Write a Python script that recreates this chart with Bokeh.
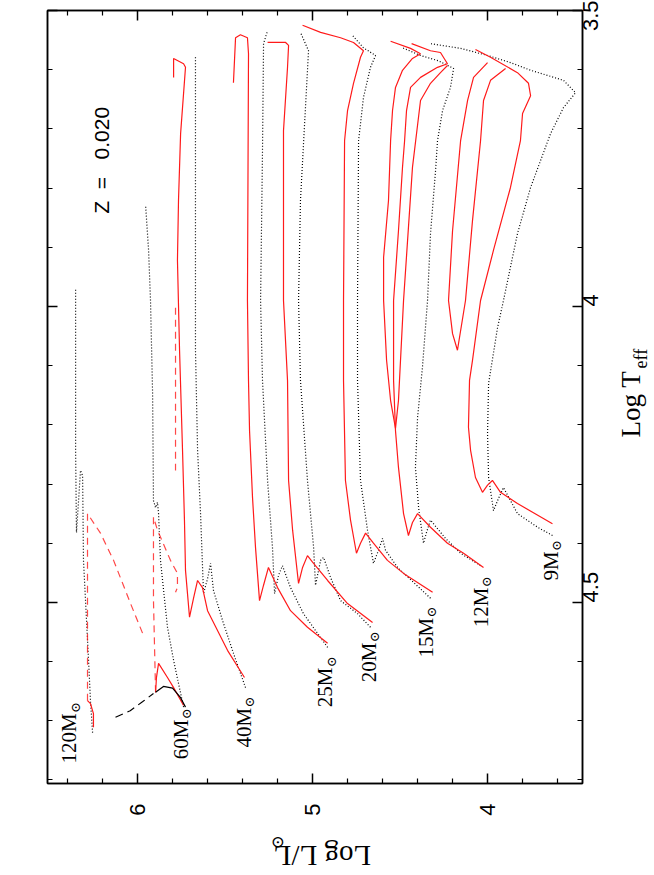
import math
from bokeh.plotting import figure
from bokeh.layouts import row, column
from bokeh.models import Range1d, LinearAxis, FixedTicker, Label
from bokeh.core.properties import value
from bokeh.embed import file_html
from bokeh.resources import INLINE

# ---------------- data: Log L (x) and Log Teff (y) ----------------
# rotating models (red solid)
m9_rot_L = [3.627, 3.827, 3.924, 3.970, 3.998, 4.027, 4.067, 4.095, 4.107, 4.101, 4.084, 4.038, 3.964, 3.867, 3.810, 3.798, 3.752, 3.764, 3.827, 3.981, 4.067]
m9_rot_T = [4.367, 4.333, 4.314, 4.294, 4.302, 4.314, 4.289, 4.243, 4.204, 4.125, 4.091, 3.990, 3.905, 3.799, 3.720, 3.674, 3.644, 3.623, 3.605, 3.579, 3.566]
m9_loop_L = [3.895, 3.981, 4.021, 4.038, 4.084, 4.124, 4.170, 4.198, 4.221, 4.198, 4.152, 4.112, 4.078, 3.998]
m9_loop_T = [3.598, 3.618, 3.652, 3.720, 3.855, 3.990, 4.074, 4.046, 3.990, 3.872, 3.720, 3.652, 3.613, 3.588]
m12_rot_L = [4.021, 4.135, 4.227, 4.324, 4.398, 4.427, 4.450, 4.478, 4.507, 4.524, 4.535, 4.535, 4.507, 4.484, 4.472, 4.461, 4.438, 4.381, 4.284, 4.227, 4.267, 4.324, 4.432]
m12_rot_T = [4.441, 4.417, 4.400, 4.373, 4.350, 4.365, 4.387, 4.350, 4.272, 4.210, 4.125, 3.990, 3.872, 3.765, 3.720, 3.669, 3.630, 3.613, 3.596, 3.590, 3.571, 3.568, 3.556]
m12_loop_L = [4.552, 4.438, 4.381, 4.427, 4.484, 4.524, 4.541, 4.552, 4.564, 4.592, 4.592, 4.575, 4.552, 4.524, 4.507, 4.478, 4.427, 4.381, 4.324, 4.267, 4.227]
m12_loop_T = [3.552, 3.564, 3.573, 3.581, 3.601, 3.630, 3.669, 3.720, 3.821, 3.917, 3.990, 4.091, 4.159, 4.206, 4.159, 3.990, 3.765, 3.652, 3.623, 3.605, 3.593]
m15_rot_L = [4.312, 4.478, 4.570, 4.650, 4.695, 4.724, 4.747, 4.781, 4.810, 4.821, 4.821, 4.815, 4.798, 4.764, 4.724, 4.707, 4.764, 4.838, 4.952, 5.055]
m15_rot_T = [4.483, 4.451, 4.429, 4.400, 4.383, 4.400, 4.417, 4.361, 4.294, 4.125, 3.990, 3.720, 3.669, 3.623, 3.579, 3.568, 3.554, 3.546, 3.537, 3.525]
m20_rot_L = [4.655, 4.798, 4.912, 4.998, 5.027, 5.055, 5.078, 5.112, 5.135, 5.141, 5.164, 5.164, 5.141, 5.135, 5.152, 5.255]
m20_rot_T = [4.534, 4.502, 4.463, 4.432, 4.421, 4.441, 4.468, 4.378, 4.294, 4.125, 3.990, 3.703, 3.596, 3.559, 3.554, 3.554]
m25_rot_L = [4.912, 5.027, 5.124, 5.198, 5.250, 5.278, 5.301, 5.324, 5.341, 5.358, 5.364, 5.370, 5.364, 5.370, 5.410, 5.438, 5.450]
m25_rot_T = [4.569, 4.542, 4.514, 4.475, 4.441, 4.471, 4.497, 4.407, 4.323, 4.210, 4.125, 3.990, 3.573, 3.546, 3.541, 3.546, 3.622]
m40_rot_L = [5.387, 5.484, 5.598, 5.627, 5.655, 5.678, 5.701, 5.724, 5.730, 5.741, 5.758, 5.770, 5.764, 5.752, 5.724, 5.735, 5.792, 5.792]
m40_rot_T = [4.627, 4.581, 4.514, 4.475, 4.463, 4.493, 4.525, 4.446, 4.361, 4.243, 4.074, 3.922, 3.821, 3.708, 3.596, 3.590, 3.581, 3.613]
m60_rot_L = [5.735, 5.792, 5.827, 5.878, 5.890, 5.895]
m60_rot_T = [4.674, 4.644, 4.627, 4.603, 4.627, 4.652]
m60_wr_L = [5.895, 5.907, 5.907, 5.884, 5.810, 5.770, 5.770, 5.781]
m60_wr_T = [4.652, 4.497, 4.356, 4.378, 4.429, 4.451, 4.475, 4.483]
m60_wr2_L = [5.781, 5.781]
m60_wr2_T = [4.002, 4.277]
m120_rot_L = [6.250, 6.250, 6.267, 6.284]
m120_rot_T = [4.711, 4.688, 4.671, 4.666]
m120_wr_L = [6.284, 6.284, 6.210, 6.135, 6.038, 5.964]
m120_wr_T = [4.666, 4.350, 4.383, 4.429, 4.502, 4.556]

# non-rotating models (black dotted)
m9_std_L = [3.627, 3.712, 3.827, 3.907, 3.935, 3.964, 3.992, 3.998, 3.992, 3.941, 3.907, 3.827, 3.752, 3.638, 3.564, 3.495, 3.564, 3.752, 3.867, 3.998, 4.152, 4.324]
m9_std_T = [4.387, 4.373, 4.350, 4.306, 4.324, 4.345, 4.289, 4.215, 4.130, 4.036, 3.990, 3.877, 3.799, 3.708, 3.664, 3.639, 3.618, 3.601, 3.588, 3.576, 3.564, 3.556]
m12_std_L = [4.038, 4.152, 4.238, 4.324, 4.347, 4.364, 4.392, 4.410, 4.398, 4.370, 4.341, 4.324, 4.295, 4.284, 4.255, 4.210, 4.192, 4.278, 4.381, 4.484]
m12_std_T = [4.438, 4.417, 4.392, 4.361, 4.382, 4.400, 4.340, 4.272, 4.188, 4.103, 3.990, 3.877, 3.770, 3.720, 3.669, 3.630, 3.598, 3.585, 3.576, 3.563]
m15_std_L = [4.324, 4.512, 4.581, 4.598, 4.621, 4.650, 4.684, 4.724, 4.741, 4.741, 4.735, 4.707, 4.667, 4.638, 4.707, 4.770]
m15_std_T = [4.493, 4.441, 4.412, 4.392, 4.412, 4.434, 4.378, 4.294, 4.125, 3.990, 3.720, 3.647, 3.596, 3.576, 3.563, 3.542]
m20_std_L = [4.667, 4.741, 4.838, 4.895, 4.935, 4.952, 4.981, 4.992, 5.027, 5.067, 5.078, 5.067, 5.021, 5.067]
m20_std_T = [4.542, 4.519, 4.497, 4.458, 4.424, 4.429, 4.471, 4.407, 4.294, 4.125, 3.990, 3.821, 3.568, 3.537]
m25_std_L = [4.912, 5.050, 5.124, 5.170, 5.192, 5.215, 5.227, 5.255, 5.284, 5.295, 5.284, 5.278, 5.255]
m25_std_T = [4.576, 4.519, 4.475, 4.438, 4.454, 4.485, 4.407, 4.294, 4.125, 3.990, 3.737, 3.556, 3.534]
m40_std_L = [5.381, 5.450, 5.512, 5.564, 5.581, 5.598, 5.621, 5.638, 5.655, 5.667, 5.667, 5.667]
m40_std_T = [4.644, 4.586, 4.531, 4.480, 4.434, 4.460, 4.485, 4.350, 4.243, 4.074, 3.821, 3.579]
m60_std_L = [5.735, 5.792, 5.827, 5.855, 5.867, 5.878, 5.884, 5.895, 5.907, 5.912, 5.924, 5.935, 5.952]
m60_std_T = [4.677, 4.598, 4.542, 4.463, 4.429, 4.350, 4.331, 4.340, 4.328, 4.147, 3.990, 3.905, 3.829]
m120_std_L = [6.255, 6.267, 6.278, 6.307, 6.312, 6.324, 6.335, 6.347, 6.352, 6.352, 6.352]
m120_std_T = [4.720, 4.666, 4.598, 4.429, 4.286, 4.277, 4.328, 4.382, 4.243, 4.074, 3.970]
m60_pre_L = [6.124, 6.040, 5.970, 5.907]
m60_pre_T = [4.694, 4.683, 4.668, 4.654]
m60_arc_L = [5.895, 5.850, 5.798, 5.752, 5.724]
m60_arc_T = [4.652, 4.642, 4.645, 4.661, 4.677]

# track labels: mass, Log L at the centre line of the text, Log Teff where the text starts
mass_text = ["120", "60", "40", "25", "20", "15", "12", "9"]
mass_L = [6.387, 5.752, 5.392, 4.924, 4.678, 4.352, 4.038, 3.638]
mass_T = [4.772, 4.765, 4.745, 4.677, 4.635, 4.593, 4.542, 4.463]

x_major = [4, 5, 6]
x_minor = [3.6, 3.8, 4.2, 4.4, 4.6, 4.8, 5.2, 5.4, 5.6, 5.8, 6.2, 6.4]
y_major = [3.5, 4.0, 4.5]
y_minor = [3.6, 3.7, 3.8, 3.9, 4.1, 4.2, 4.3, 4.4, 4.6, 4.7, 4.8]
y_labels = {3.5: "3.5", 4.0: "4", 4.5: "4.5"}
x_labels = {4: "4", 5: "5", 6: "6"}

W_MAIN, H_MAIN = 615, 819
TOTAL_W, TOTAL_H = 654, 875

# ---------------- main figure ----------------
p = figure(width=W_MAIN, height=H_MAIN, output_backend="svg", toolbar_location=None,
           x_range=Range1d(6.5126, 3.4554), y_range=Range1d(4.806, 3.5),
           x_axis_location=None, y_axis_location=None,
           min_border_left=47, min_border_right=W_MAIN - 582,
           min_border_top=10, min_border_bottom=H_MAIN - 783)
p.grid.visible = False
p.outline_line_color = "black"
p.outline_line_width = 1.5
p.background_fill_color = "white"
p.border_fill_color = "white"

def make_axis(ticker, labels, show):
    ax = LinearAxis(ticker=ticker)
    ax.axis_line_width = 1.5
    ax.major_tick_in = 10
    ax.major_tick_out = 0
    ax.minor_tick_in = 5
    ax.minor_tick_out = 0
    ax.major_tick_line_width = 1.5
    ax.minor_tick_line_width = 1.2
    ax.major_label_overrides = labels
    if show:
        ax.major_label_text_font = "Liberation Sans"
        ax.major_label_text_font_size = "22px"
        ax.major_label_text_color = "black"
        ax.major_label_orientation = math.pi / 2
    else:
        ax.major_label_text_font_size = "1px"
        ax.major_label_text_color = None
        ax.major_label_standoff = 0
    return ax

xt = FixedTicker(ticks=x_major, minor_ticks=x_minor)
yt = FixedTicker(ticks=y_major, minor_ticks=y_minor)
ax_b = make_axis(xt, x_labels, True)
ax_b.major_label_standoff = 20
ax_r = make_axis(yt, y_labels, True)
ax_r.major_label_standoff = 8
p.add_layout(ax_b, "below")
p.add_layout(ax_r, "right")
p.add_layout(make_axis(xt, x_labels, False), "above")
p.add_layout(make_axis(yt, y_labels, False), "left")

red = "#ff1a1a"
dot = dict(line_color="black", line_width=1.2, line_dash="1 2")
sol = dict(line_color=red, line_width=1.2)
dsh = dict(line_color=red, line_width=1.2, line_dash="7 5", line_alpha=0.8)

for L, T in [(m9_std_L, m9_std_T), (m12_std_L, m12_std_T), (m15_std_L, m15_std_T),
             (m20_std_L, m20_std_T), (m25_std_L, m25_std_T), (m40_std_L, m40_std_T),
             (m60_std_L, m60_std_T), (m120_std_L, m120_std_T)]:
    p.line(L, T, **dot)

for L, T in [(m9_rot_L, m9_rot_T), (m9_loop_L, m9_loop_T), (m12_rot_L, m12_rot_T),
             (m12_loop_L, m12_loop_T), (m15_rot_L, m15_rot_T), (m20_rot_L, m20_rot_T),
             (m25_rot_L, m25_rot_T), (m40_rot_L, m40_rot_T), (m60_rot_L, m60_rot_T),
             (m120_rot_L, m120_rot_T)]:
    p.line(L, T, **sol)

for L, T in [(m60_wr_L, m60_wr_T), (m60_wr2_L, m60_wr2_T), (m120_wr_L, m120_wr_T)]:
    p.line(L, T, **dsh)

p.line(m60_pre_L, m60_pre_T, line_color="black", line_width=1.2, line_dash="8 5")
p.line(m60_arc_L, m60_arc_T, line_color="black", line_width=1.2)

serif = "Liberation Serif"
FS = 21
for txt, L, T in zip(mass_text, mass_L, mass_T):
    label = txt + "M"
    w = (0.5 * len(txt) + 0.889) * FS
    p.add_layout(Label(x=L, y=T, text=label, angle=math.pi / 2, text_font=serif,
                       text_font_size=f"{FS}px", text_align="left", text_baseline="middle",
                       text_color="black"))
    p.add_layout(Label(x=L, y=T, text="\u2299", angle=math.pi / 2, text_font="DejaVu Serif",
                       text_font_size="13px", text_align="left", text_baseline="middle",
                       x_offset=6, y_offset=w + 0.5, text_color="black"))

p.add_layout(Label(x=6.204, y=3.753, text="Z\u00a0\u00a0=\u00a0\u00a0\u00a00.020", angle=math.pi / 2,
                   text_font="Liberation Sans", text_font_size="21px",
                   text_align="center", text_baseline="middle", text_color="black"))

# ---------------- axis titles (outside the frame) ----------------
def title_fig(w, h, x0, y0):
    f = figure(width=w, height=h, output_backend="svg", toolbar_location=None,
               x_range=Range1d(x0, x0 + w), y_range=Range1d(y0 + h, y0),
               x_axis_location=None, y_axis_location=None, min_border=0)
    f.grid.visible = False
    f.outline_line_color = None
    f.background_fill_color = "white"
    f.border_fill_color = "white"
    return f

bot = title_fig(W_MAIN, TOTAL_H - H_MAIN, 0, H_MAIN)
bot.text(x=[372], y=[855], text=["Log L/L"], angle=math.pi, text_font=value(serif),
         text_font_size=value("29px"), text_align=value("left"),
         text_baseline=value("middle"), text_color="black")
bot.text(x=[273], y=[842], text=["\u2299"], angle=math.pi, text_font=value("DejaVu Serif"),
         text_font_size=value("17px"), text_align=value("left"),
         text_baseline=value("middle"), text_color="black")

rgt = title_fig(TOTAL_W - W_MAIN, TOTAL_H, W_MAIN, 0)
rgt.text(x=[630], y=[437], text=["Log T"], angle=math.pi / 2, text_font=value(serif),
         text_font_size=value("27px"), text_align=value("left"),
         text_baseline=value("middle"), text_color="black")
rgt.text(x=[640], y=[368], text=["eff"], angle=math.pi / 2, text_font=value(serif),
         text_font_size=value("18px"), text_align=value("left"),
         text_baseline=value("middle"), text_color="black")

layout = row(column(p, bot, spacing=0), rgt, spacing=0)
open("out.html", "w").write(file_html(layout, INLINE))
